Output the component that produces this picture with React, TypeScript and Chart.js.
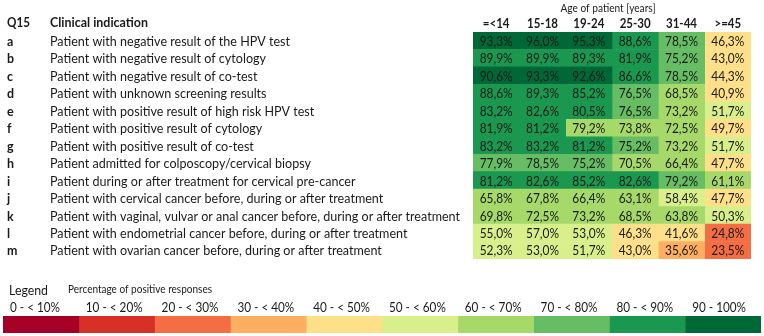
import React, { useEffect, useRef } from 'react';
import { Chart, registerables } from 'chart.js';

Chart.register(...registerables);

// ---------- data ----------
const QUESTION = 'Q15';
const INDICATION_TITLE = 'Clinical indication';
const AGE_TITLE = 'Age of patient [years]';

const ROW_KEYS = ['a', 'b', 'c', 'd', 'e', 'f', 'g', 'h', 'i', 'j', 'k', 'l', 'm'];
const ROW_LABELS = [
  'Patient with negative result of the HPV test',
  'Patient with negative result of cytology',
  'Patient with negative result of co-test',
  'Patient with unknown screening results',
  'Patient with positive result of high risk HPV test',
  'Patient with positive result of cytology',
  'Patient with positive result of co-test',
  'Patient admitted for colposcopy/cervical biopsy',
  'Patient during or after treatment for cervical pre-cancer',
  'Patient with cervical cancer before, during or after treatment',
  'Patient with vaginal, vulvar or anal cancer before, during or after treatment',
  'Patient with endometrial cancer before, during or after treatment',
  'Patient with ovarian cancer before, during or after treatment',
];

const AGE_GROUPS = ['=<14', '15-18', '19-24', '25-30', '31-44', '>=45'];

const AGE_LE14 = [93.3, 89.9, 90.6, 88.6, 83.2, 81.9, 83.2, 77.9, 81.2, 65.8, 69.8, 55.0, 52.3];
const AGE_15_18 = [96.0, 89.9, 93.3, 89.3, 82.6, 81.2, 83.2, 78.5, 82.6, 67.8, 72.5, 57.0, 53.0];
const AGE_19_24 = [95.3, 89.3, 92.6, 85.2, 80.5, 79.2, 81.2, 75.2, 85.2, 66.4, 73.2, 53.0, 51.7];
const AGE_25_30 = [88.6, 81.9, 86.6, 76.5, 76.5, 73.8, 75.2, 70.5, 82.6, 63.1, 68.5, 46.3, 43.0];
const AGE_31_44 = [78.5, 75.2, 78.5, 68.5, 73.2, 72.5, 73.2, 66.4, 79.2, 58.4, 63.8, 41.6, 35.6];
const AGE_GE45 = [46.3, 43.0, 44.3, 40.9, 51.7, 49.7, 51.7, 47.7, 61.1, 47.7, 50.3, 24.8, 23.5];

// colour class (legend bin index 0..9) as shown in the source table
const CLASS_LE14 = [9, 8, 9, 8, 8, 8, 8, 7, 8, 6, 6, 5, 5];
const CLASS_15_18 = [9, 8, 9, 8, 8, 8, 8, 7, 8, 6, 6, 5, 5];
const CLASS_19_24 = [9, 8, 9, 8, 8, 6, 8, 7, 8, 6, 6, 5, 5];
const CLASS_25_30 = [8, 8, 8, 7, 7, 6, 7, 6, 8, 6, 6, 4, 4];
const CLASS_31_44 = [7, 7, 7, 6, 6, 6, 6, 6, 7, 5, 6, 4, 3];
const CLASS_GE45 = [4, 4, 4, 4, 5, 4, 5, 4, 6, 4, 5, 2, 2];

const LEGEND_TITLE = 'Legend';
const LEGEND_SUBTITLE = 'Percentage of positive responses';
const LEGEND_BINS = ['0 - < 10%', '10 - < 20%', '20 - < 30%', '30 - < 40%', '40 - < 50%', '50 - < 60%', '60 - < 70%', '70 - < 80%', '80 - < 90%', '90 - 100%'];
const LEGEND_STARTS = [0, 10, 20, 30, 40, 50, 60, 70, 80, 90];
const LEGEND_ENDS = [10, 20, 30, 40, 50, 60, 70, 80, 90, 100];

// ---------- styles ----------
const PALETTE = ['#a50026', '#d73027', '#f46d43', '#fdae61', '#fee08b', '#d9ef8b', '#a6d96a', '#66bd63', '#1a9850', '#006837'];
const FONT = 'Lato, "Open Sans", sans-serif';
const TEXT = '#1a1a1a';
const F_REG = `13px ${FONT}`;
const F_BOLD = `bold 13px ${FONT}`;
const F_SMALL = `11px ${FONT}`;
const F_AGE = `11.5px ${FONT}`;

// horizontal scale so that a sample string gets the width it has in the reference (Calibri look)
function fitScale(ctx: CanvasRenderingContext2D, font: string, sample: string, target: number) {
  ctx.save();
  ctx.font = font;
  const w = ctx.measureText(sample).width;
  ctx.restore();
  return w > 0 ? target / w : 1;
}

function drawText(ctx: CanvasRenderingContext2D, s: string, x: number, y: number, font: string, align: CanvasTextAlign, sx: number) {
  ctx.save();
  ctx.font = font;
  ctx.fillStyle = TEXT;
  ctx.textBaseline = 'middle';
  ctx.textAlign = align;
  ctx.translate(x, y);
  ctx.scale(sx, 1);
  ctx.fillText(s, 0, 0);
  ctx.restore();
}

const fmt = (v: number) => v.toFixed(1).replace('.', ',') + '%';

export default function App() {
  const mainRef = useRef<HTMLCanvasElement>(null);
  const legRef = useRef<HTMLCanvasElement>(null);

  useEffect(() => {
    const series = [AGE_LE14, AGE_15_18, AGE_19_24, AGE_25_30, AGE_31_44, AGE_GE45];
    const classes = [CLASS_LE14, CLASS_15_18, CLASS_19_24, CLASS_25_30, CLASS_31_44, CLASS_GE45];

    const tablePlugin = {
      id: 'tableText',
      afterDatasetsDraw(chart: any) {
        const ctx = chart.ctx as CanvasRenderingContext2D;
        const xs = chart.scales.x;
        const ys = chart.scales.y;
        const sReg = fitScale(ctx, F_REG, ROW_LABELS[10], 410);
        const sBold = fitScale(ctx, F_BOLD, INDICATION_TITLE, 98);
        const sQ = fitScale(ctx, F_BOLD, QUESTION, 23);
        const sCell = fitScale(ctx, F_REG, '93,3%', 33);
        const sHead = fitScale(ctx, F_BOLD, '15-18', 31);
        const sAge = fitScale(ctx, F_AGE, AGE_TITLE, 95);
        // cell values
        series.forEach((vals, j) => {
          const meta = chart.getDatasetMeta(j);
          meta.data.forEach((el: any, i: number) => {
            const cx = (el.x + el.base) / 2;
            drawText(ctx, fmt(vals[i]), cx, el.y + 1, F_REG, 'center', sCell);
          });
        });
        // column headers
        AGE_GROUPS.forEach((g, j) => {
          drawText(ctx, g, xs.getPixelForValue(j + 0.5), chart.chartArea.top - 8, F_BOLD, 'center', sHead);
        });
        drawText(ctx, AGE_TITLE, (xs.left + xs.right) / 2 - 4, 8, F_AGE, 'center', sAge);
        // row labels
        drawText(ctx, QUESTION, 7, 23, F_BOLD, 'left', sQ);
        drawText(ctx, INDICATION_TITLE, 50, 23, F_BOLD, 'left', sBold);
        ROW_KEYS.forEach((k, i) => {
          const y = ys.getPixelForTick(i) + 1;
          drawText(ctx, k, 7, y, F_BOLD, 'left', sBold);
          drawText(ctx, ROW_LABELS[i], 50, y, F_REG, 'left', sReg);
        });
      },
    };

    const main = new Chart(mainRef.current!, {
      type: 'bar',
      data: {
        labels: ROW_KEYS,
        datasets: series.map((vals, j) => ({
          label: AGE_GROUPS[j],
          data: vals.map(() => [j, j + 1]) as any,
          backgroundColor: classes[j].map((c) => PALETTE[c]),
          borderWidth: 0,
          barPercentage: 1,
          categoryPercentage: 1,
          grouped: false,
        })),
      },
      options: {
        responsive: false,
        animation: false,
        indexAxis: 'y',
        layout: { padding: { left: 473, right: 13, top: 32, bottom: 77 } },
        scales: {
          x: { type: 'linear', min: 0, max: 6, display: false },
          y: { type: 'category', display: false },
        },
        plugins: { legend: { display: false }, tooltip: { enabled: false } },
      },
      plugins: [tablePlugin],
    } as any);

    const legendPlugin = {
      id: 'legendText',
      afterDatasetsDraw(chart: any) {
        const ctx = chart.ctx as CanvasRenderingContext2D;
        const xs = chart.scales.x;
        const sTitle = fitScale(ctx, F_REG, LEGEND_TITLE, 39);
        const sSub = fitScale(ctx, F_SMALL, LEGEND_SUBTITLE, 144);
        const sBin = fitScale(ctx, F_REG, LEGEND_BINS[0], 50);
        drawText(ctx, LEGEND_TITLE, 9, 11, F_REG, 'left', sTitle);
        drawText(ctx, LEGEND_SUBTITLE, 68, 9, F_SMALL, 'left', sSub);
        LEGEND_BINS.forEach((b, i) => {
          drawText(ctx, b, xs.getPixelForValue(LEGEND_STARTS[i]) + 7, 28, F_REG, 'left', sBin);
        });
      },
    };

    const leg = new Chart(legRef.current!, {
      type: 'bar',
      data: {
        labels: ['range'],
        datasets: LEGEND_BINS.map((b, i) => ({
          label: b,
          data: [[LEGEND_STARTS[i], LEGEND_ENDS[i]]] as any,
          backgroundColor: PALETTE[i],
          borderWidth: 0,
          barPercentage: 1,
          categoryPercentage: 1,
          grouped: false,
        })),
      },
      options: {
        responsive: false,
        animation: false,
        indexAxis: 'y',
        layout: { padding: { left: 3, right: 3, top: 36, bottom: 3 } },
        scales: {
          x: { type: 'linear', min: 0, max: 100, display: false },
          y: { type: 'category', display: false },
        },
        plugins: { legend: { display: false }, tooltip: { enabled: false } },
      },
      plugins: [legendPlugin],
    } as any);

    return () => {
      main.destroy();
      leg.destroy();
    };
  }, []);

  return (
    <div style={{ position: 'absolute', left: 0, top: 0, width: 764, height: 336, background: '#fff' }}>
      <canvas ref={mainRef} width={764} height={336} style={{ position: 'absolute', left: 0, top: 0 }} />
      <canvas ref={legRef} width={764} height={56} style={{ position: 'absolute', left: 0, top: 280 }} />
    </div>
  );
}
